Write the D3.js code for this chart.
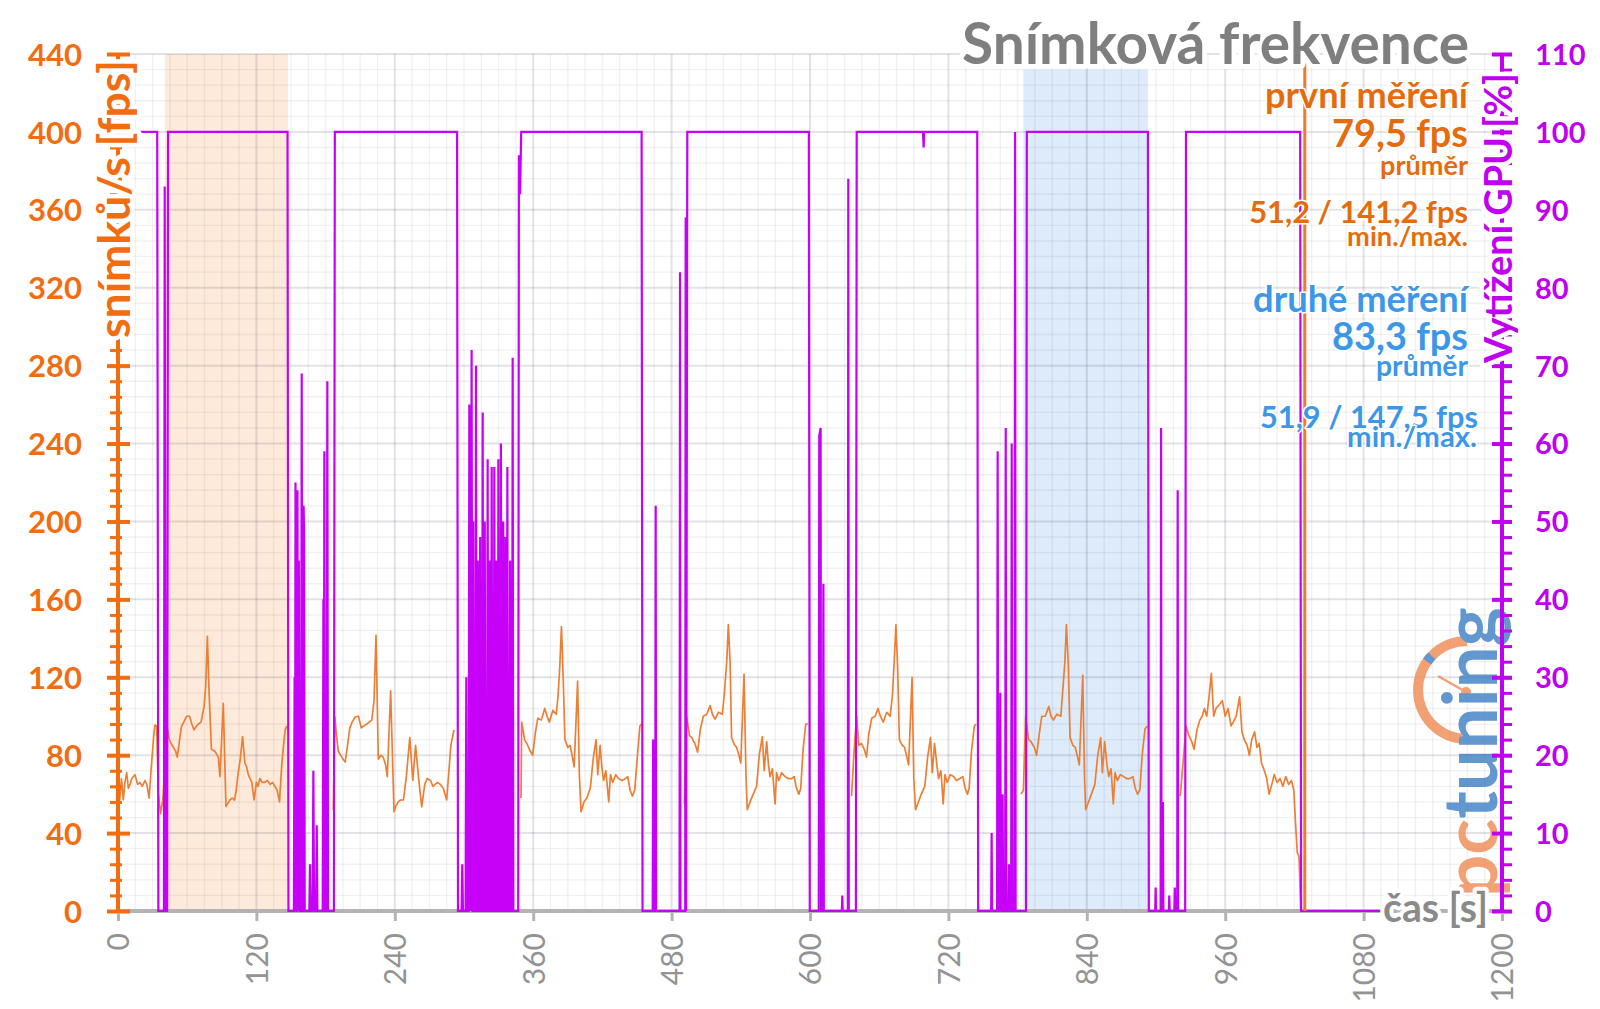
<!DOCTYPE html>
<html><head><meta charset="utf-8">
<script src="https://cdn.jsdelivr.net/npm/d3@7"></script>
<style>body{margin:0;background:#fff;}svg{display:block;}</style>
</head><body>
<svg id="c" width="1600" height="1009"></svg>
<script>
// ---------------- DATA ----------------
const xTicks = [0,120,240,360,480,600,720,840,960,1080,1200];
const fpsTicks = [0,40,80,120,160,200,240,280,320,360,400,440];
const gpuTicks = [0,10,20,30,40,50,60,70,80,90,100,110];
const titleText = "Snímková frekvence";
const fpsAxisTitle = "snímků/s [fps]";
const gpuAxisTitle = "Vytížení GPU [%]";
const timeAxisTitle = "čas [s]";
const firstLabels = ["první měření", "79,5 fps", "průměr", "51,2 / 141,2 fps", "min./max."];
const secondLabels = ["druhé měření", "83,3 fps", "průměr", "51,9 / 147,5 fps", "min./max."];
const firstWindow = [40.7, 147.4];   // s
const secondWindow = [785, 893];     // s
const endMarker = 1029;              // s

// fps series, [time s, fps]
const fpsRun1 = [[0,65],[1.5,57],[3,68],[4.6,57],[6,66],[7.5,71],[9,63],[10.4,65],[12,68],[14.7,70],[17,65],[19,66],[21,64],[23.4,67],[25,65],[27,58],[29,75],[31,90],[32,95.5],[33.5,95],[35,60],[37,50],[39,58],[41,80],[42.5,95],[44.5,88],[46,86],[48,84],[50,82],[51.4,79],[53,86],[55,94.7],[57,97],[59.5,100],[62,100],[64,96],[65.9,93],[68,95],[69.7,96],[72,97],[74.6,105],[76,115],[77.5,141],[79,112],[81,83],[84,82],[86,80],[87,79],[88.4,69],[91.3,106.6],[93.6,53.6],[95,55],[97,57],[99,58],[101,57],[102.5,62],[104,70],[106,78],[108,89.5],[110,76],[111.5,74],[113,70],[116,66],[118,57],[120,66],[121.5,64],[123,68],[125,66],[127,66],[129.5,67],[132,65],[134,66],[136,64],[138,62],[140,56],[142,75],[144,88],[145,93],[146.5,95]];
const fpsRun2 = [[186.7,52],[188,99.7],[189.5,90],[191,82],[193,80],[195,78],[197,76.5],[199,85],[201,94],[203,97],[205.5,99.6],[208.4,100],[211,94],[213,95],[215.6,96],[218,97],[220,98],[222,108],[223.7,141.5],[225.7,78],[228,80],[230,79],[232,75],[233.5,69],[236.4,113],[239.3,51],[241,54],[243,56],[245,57],[247.5,57],[250,69],[253,89],[255.6,67],[258,85],[260.5,69],[263.3,53.5],[266,65],[268,68],[271,67],[273,64],[275,65],[277,66],[279.5,65],[282,63],[285,57],[288.6,85],[291.3,93]];
const fpsRun3 = [[349.4,58],[350,97],[352.5,88],[354.5,86],[357.5,82],[359.5,80],[362,92],[364,99],[367,98],[370,104],[372,100],[374,97],[377,103],[380,101],[381.5,110],[383,125],[384.5,146],[386,120],[387.5,88],[390,84],[392,85],[394,79],[395.5,74],[398.5,118],[400,70],[401.5,51],[404,56],[406.5,58],[409.5,63],[412,78],[414.5,88],[416,70],[418,85],[419.5,74],[421,67],[423,72],[425.5,56],[427,70],[429,66],[431.5,70],[434,68],[437,67],[440,68],[442,69],[444,62],[446,59],[448,62],[450,77],[452.5,95],[454,96]];
const fpsRun4 = [[491,55],[493,100],[495.5,90],[497.5,89],[500.5,85.5],[502.5,81.6],[505,93.5],[507.5,100],[510.5,101],[513.4,105.5],[515.4,101],[517.7,98.5],[520.6,102],[524,101],[525.8,112],[527.8,128],[529.2,147],[530.7,128],[532,89],[534.4,85.5],[536.4,84],[538.4,80],[540,76],[542.8,121.6],[544.5,69.4],[545.6,52],[548,56],[550.8,60],[553.7,64],[556,80],[558.7,89.5],[560.3,72],[562.4,87],[564,75],[565.3,69],[567.4,73],[569.7,55],[571,71],[573,67],[575.4,71],[578.3,69],[581,68],[584,68],[586.3,69],[588.3,63],[590.3,60],[592,63],[594,83],[596.3,96],[598.3,96]];
const fpsRun5 = [[636,59],[638,80],[640.4,100],[642.4,85],[644.5,86],[647,83],[649,79],[651,91],[653.5,99],[656.5,100],[659,104],[661,100],[663.5,97],[666.5,102],[669.5,100],[671.5,111],[673,128],[674.5,147],[676,125],[677.5,88],[680,85],[682,84],[684,79],[685.5,75],[688.5,120],[690,68],[691.5,52],[694,56],[696.5,60],[699.5,64],[702,79],[704.5,89],[706,71],[708,86],[710,75],[711.5,68],[713.5,72],[715.5,55],[717,70],[719,66],[721.5,70],[724.5,69],[727,67],[730,68],[732.5,69],[734.5,63],[736.5,60],[738,63],[740,82],[742.5,95],[744,96]];
const fpsRun6 = [[783,60],[785,62],[787,100],[789.5,88],[791.5,87],[794.5,84],[796.5,80],[799,92],[801,100],[804,100],[807,105],[809,100],[811,98],[814,101],[817.5,100],[819,112],[821,128],[822.3,147],[824,126],[825.5,89],[828,85],[830,84],[832,79],[833.5,75],[836.5,121],[838,69],[839,52],[841.5,56],[844,60],[847,65],[849.5,80],[852,89],[853.5,71],[855.5,87],[857.5,75],[859,69],[861,73],[863,55],[864.5,71],[866.5,67],[869,70],[872,69],[874.5,68],[877.5,68],[880,69],[882,63],[884,60],[886,62],[888,80],[890.5,93.5],[892.5,95]];
const fpsRun7 = [[921,59],[924,80],[926,95],[928.5,90],[931,87],[933,83],[935.5,93],[938,98],[940,100],[942,104],[944,100],[946,110],[948,122],[950,100],[952,104],[955,106],[957.5,108],[960,100],[962.5,104],[965,95],[967,97],[969.5,100],[972.5,110],[974.5,92],[976.5,88],[979,85],[981,80],[983,88],[985.5,92],[987.5,84],[989.5,86],[991.5,76],[994,72],[996,68],[998,60],[1000,64],[1002.5,70],[1005,66],[1007.5,68],[1010,64],[1012.5,69],[1015,65],[1017.5,67],[1019.5,62],[1021,45],[1022.5,30],[1024,28],[1025.5,0]];

// GPU load, [time s, %]
const gpuLoad = [[0,100],[34,100],[35,0],[39.8,0],[40.5,93],[41.2,0],[42.6,0],[43.4,100],
[147,100],[147.8,0],[152.5,0],[153.1,30],[153.5,0],[153.9,55],[154.6,0],[155,0],[155.6,54],[156.2,0],[156.8,45],[157.4,0],[158.7,0],[159.3,69],[159.9,0],[160.3,0],[160.9,52],[161.3,49],[161.9,0],[165.9,0],[166.5,6],[167.1,0],[168.8,0],[169.4,18],[170,0],[171.7,0],[172.3,11],[172.9,0],[177.5,0],[178.1,40],[178.5,0],[178.9,59],[179.5,0],[180.9,0],[181.5,68],[182.1,0],[187.2,0],[188,100],
[294,100],[294.8,0],[297.9,0],[298.5,6],[299.1,0],[301.4,0],[302,30],[302.6,0],[304,0],[304.6,65],[305.1,0],[305.6,40],[306.1,0],[306.6,72],[307.3,0],[307.4,0],[308,50],[308.6,0],[309.8,0],[310.4,70],[311,0],[311.4,0],[312,45],[312.6,0],[313.4,0],[314,48],[314.6,0],[315.6,0],[316.2,64],[316.8,0],[317.4,0],[318,50],[318.6,0],[319.9,0],[320.5,58],[321.1,0],[321.4,0],[322,45],[322.6,0],[323.4,0],[324,57],[324.6,0],[325.7,0],[326.3,57],[326.9,0],[327.4,0],[328,45],[328.6,0],[329.2,0],[329.8,58],[330.4,0],[331.4,0],[332,60],[332.6,0],[333.4,0],[334,50],[334.6,0],[335.4,0],[336,48],[336.6,0],[337,0],[337.6,57],[338.2,0],[339.4,0],[340,45],[340.6,0],[341.6,0],[342.2,71],[342.8,0],[347,0],[347.6,97],[348.6,92],[349.6,100],
[454,100],[454.8,0],[463.6,0],[464,22],[464.4,0],[465.8,0],[466.2,52],[466.6,0],[486.9,0],[487.3,82],[487.7,0],[491.8,0],[492.2,89],[492.6,0],[493.1,49],[493.6,100],
[599,100],[599.8,0],[607.6,0],[608,61],[609.2,62],[609.6,0],[611.2,0],[611.6,42],[612,0],[627.6,0],[628,2],[628.4,0],[632.8,0],[633.2,94],[633.6,0],[639.8,0],[640.5,100],
[698,100],[698.5,98],[699,100],
[745,100],[745.8,0],[757.1,0],[757.5,10],[757.9,0],[762.2,0],[762.7,59],[763.2,0],[764.5,0],[765,28],[765.5,0],[766.5,0],[767,15],[767.5,0],[769.2,0],[769.7,62],[770.2,0],[772,0],[772.5,6],[773,0],[774.4,0],[774.9,60],[775.4,0],[777.3,0],[777.8,100],[778.3,0],[787.3,0],[788,100],
[893,100],[893.8,0],[899.3,0],[899.7,3],[900.1,0],[904,0],[904.4,62],[904.8,0],[905.6,0],[906,14],[906.4,0],[911.1,0],[911.5,2],[911.9,0],[915.9,0],[916.3,3],[916.7,0],[918.4,0],[918.8,54],[919.2,0],[925.3,0],[926,100],
[1025,100],[1025.8,0],[1096,0]];

// ---------------- DRAW ----------------
const FONT = "Lato, 'Open Sans', sans-serif";
const ORANGE_AX = "#f26c10", PURPLE_AX = "#c000f0", GRAY_AX = "#b3b3b3";
const svg = d3.select('#c');
const x = d3.scaleLinear().domain([0,1200]).range([118,1502]);
const yF = d3.scaleLinear().domain([0,440]).range([911,54]);
const yG = d3.scaleLinear().domain([0,110]).range([911,54]);

function fit(sel, target){
  const w = sel.node().getComputedTextLength();
  const fs = parseFloat(sel.attr('font-size'));
  sel.attr('font-size', fs*target/w);
  return sel;
}
function halo(sel, w){ return sel.attr('stroke', '#fff').attr('stroke-width', w).attr('stroke-linejoin', 'round').attr('paint-order', 'stroke'); }

// highlight bands
svg.append('rect').attr('x', x(firstWindow[0])).attr('width', x(firstWindow[1])-x(firstWindow[0]))
  .attr('y', yF(440)).attr('height', yF(0)-yF(440)).attr('fill', '#fdeadb');
svg.append('rect').attr('x', x(secondWindow[0])).attr('width', x(secondWindow[1])-x(secondWindow[0]))
  .attr('y', yF(432)).attr('height', yF(0)-yF(432)).attr('fill', '#ddebfb');

// grid
const grid = svg.append('g');
d3.range(0,1201,15).forEach(t => {
  const major = t % 120 === 0;
  grid.append('line').attr('x1', x(t)).attr('x2', x(t)).attr('y1', yF(440)).attr('y2', yF(0))
    .attr('stroke', major ? 'rgba(30,30,70,0.13)' : 'rgba(0,0,0,0.055)').attr('stroke-width', major ? 2 : 1.4);
});
d3.range(0,441,8).forEach(v => {
  const major = v % 40 === 0;
  grid.append('line').attr('x1', x(0)).attr('x2', x(1200)).attr('y1', yF(v)).attr('y2', yF(v))
    .attr('stroke', major ? 'rgba(30,30,70,0.13)' : 'rgba(0,0,0,0.055)').attr('stroke-width', major ? 2 : 1.4);
});

// x axis base line
svg.append('line').attr('x1', x(0)).attr('x2', x(1200)).attr('y1', yF(0)).attr('y2', yF(0))
  .attr('stroke', GRAY_AX).attr('stroke-width', 4);

// logo
const logo = svg.append('g').attr('opacity', 0.8);
logo.append('path')
  .attr('transform', 'translate(1467,690)')
  .attr('d', d3.arc()({innerRadius: 44, outerRadius: 54, startAngle: -Math.PI, endAngle: 0}))
  .attr('fill', '#f08a52');
logo.append('path')
  .attr('transform', 'translate(1467,690)')
  .attr('d', d3.arc()({innerRadius: 44, outerRadius: 54, startAngle: -0.95, endAngle: -0.8}))
  .attr('fill', '#3b7ec4');
logo.append('line').attr('x1', 1438).attr('y1', 676).attr('x2', 1466).attr('y2', 692)
  .attr('stroke', '#f08a52').attr('stroke-width', 2.5);
logo.append('circle').attr('cx', 1466).attr('cy', 692).attr('r', 5).attr('fill', '#f08a52');
const logoText = logo.append('text').attr('transform', 'translate(1497,897) rotate(-90)')
  .attr('font-family', FONT).attr('font-weight', 700).attr('font-size', 56);
logoText.append('tspan').attr('fill', '#f08a52').text('pc');
logoText.append('tspan').attr('fill', '#3b7ec4').text('tuning');
fit(logoText, 290);

// fps lines
const fpsLine = d3.line().x(d => x(d[0])).y(d => yF(d[1]));
[fpsRun1, fpsRun2, fpsRun3, fpsRun4, fpsRun5, fpsRun6, fpsRun7].forEach(run => {
  svg.append('path').attr('d', fpsLine(run)).attr('fill', 'none')
    .attr('stroke', '#ec7f35').attr('stroke-width', 1.7).attr('stroke-linejoin', 'round');
});

// GPU line
const gpuLine = d3.line().x(d => x(d[0])).y(d => yG(d[1]));
svg.append('path').attr('d', gpuLine(gpuLoad)).attr('fill', 'none')
  .attr('stroke', '#c700f8').attr('stroke-width', 2.2).attr('stroke-linejoin', 'miter');

// end marker
svg.append('line').attr('x1', x(endMarker)).attr('x2', x(endMarker)).attr('y1', 62).attr('y2', yF(0))
  .attr('stroke', '#f07a2c').attr('stroke-width', 3);

// left axis
svg.append('line').attr('x1', x(0)).attr('x2', x(0)).attr('y1', yF(0)+2).attr('y2', yF(440))
  .attr('stroke', ORANGE_AX).attr('stroke-width', 4);
const lMinor = svg.append('g').attr('transform', `translate(${x(0)},0)`)
  .call(d3.axisLeft(yF).tickValues(d3.range(0,441,8)).tickSize(8).tickFormat(''));
lMinor.select('.domain').remove();
lMinor.selectAll('line').attr('stroke', ORANGE_AX).attr('stroke-width', 3).attr('x1', 4);
const lMajor = svg.append('g').attr('transform', `translate(${x(0)},0)`)
  .call(d3.axisLeft(yF).tickValues(fpsTicks).tickSize(11));
lMajor.select('.domain').remove();
lMajor.selectAll('line').attr('stroke', ORANGE_AX).attr('stroke-width', 4).attr('x1', 12);
lMajor.selectAll('text').attr('x', -36).attr('dy', '0.36em').attr('fill', ORANGE_AX)
  .attr('font-family', FONT).attr('font-weight', 700).attr('font-size', 31).attr('text-anchor', 'end');

// right axis
svg.append('line').attr('x1', x(1200)).attr('x2', x(1200)).attr('y1', yG(0)+2).attr('y2', yG(110))
  .attr('stroke', PURPLE_AX).attr('stroke-width', 4);
const rMinor = svg.append('g').attr('transform', `translate(${x(1200)},0)`)
  .call(d3.axisRight(yG).tickValues(d3.range(0,111,2)).tickSize(10).tickFormat(''));
rMinor.select('.domain').remove();
rMinor.selectAll('line').attr('stroke', PURPLE_AX).attr('stroke-width', 3);
const rMajor = svg.append('g').attr('transform', `translate(${x(1200)},0)`)
  .call(d3.axisRight(yG).tickValues(gpuTicks).tickSize(10));
rMajor.select('.domain').remove();
rMajor.selectAll('line').attr('stroke', PURPLE_AX).attr('stroke-width', 4).attr('x1', -10);
rMajor.selectAll('text').attr('x', 33).attr('dy', '0.36em').attr('fill', PURPLE_AX)
  .attr('font-family', FONT).attr('font-weight', 700).attr('font-size', 29).attr('text-anchor', 'start');

// bottom axis
const bAx = svg.append('g').attr('transform', `translate(0,${yF(0)})`)
  .call(d3.axisBottom(x).tickValues(xTicks).tickSize(10).tickFormat(d3.format('d')));
bAx.select('.domain').remove();
bAx.selectAll('line').attr('stroke', GRAY_AX).attr('stroke-width', 3).attr('y1', 2);
bAx.selectAll('text').attr('y', 0).attr('x', 0).attr('dy', '0.36em')
  .attr('transform', 'translate(0,22) rotate(-90)').attr('text-anchor', 'end')
  .attr('fill', '#939393').attr('font-family', FONT).attr('font-size', 30);

// axis titles with white halo
const lt = svg.append('text').attr('transform', `translate(${x(0)},199) rotate(-90)`)
  .attr('text-anchor', 'middle').attr('dy', '0.27em').attr('font-family', FONT).attr('font-weight', 700)
  .attr('font-size', 36).attr('fill', ORANGE_AX).text(fpsAxisTitle);
halo(lt, 9); fit(lt, 278);
const rt = svg.append('text').attr('transform', `translate(${x(1200)},218) rotate(-90)`)
  .attr('text-anchor', 'middle').attr('dy', '0.27em').attr('font-family', FONT).attr('font-weight', 700)
  .attr('font-size', 36).attr('fill', PURPLE_AX).text(gpuAxisTitle);
halo(rt, 9); fit(rt, 290);
const bt = svg.append('text').attr('x', 1435.5).attr('y', yF(0)).attr('dy', '0.27em')
  .attr('text-anchor', 'middle').attr('font-family', FONT).attr('font-weight', 700)
  .attr('font-size', 32).attr('fill', '#8a8a8a').text(timeAxisTitle);
halo(bt, 8); fit(bt, 105);

// title
const tt = svg.append('text').attr('x', 1469).attr('y', 64).attr('text-anchor', 'end')
  .attr('font-family', FONT).attr('font-weight', 700).attr('font-size', 50).attr('fill', '#7f7f7f').text(titleText);
halo(tt, 10); fit(tt, 507);

// annotations
const firstPos = [[1468,108,203],[1468,147,136],[1468,175,88],[1468,223,219],[1468,246,121]];
const secondPos = [[1468,312,215],[1468,350,136],[1468,376,92],[1478,428,218],[1477,447,130]];
function annot(labels, pos, color){
  labels.forEach((s, i) => {
    const t = svg.append('text').attr('x', pos[i][0]).attr('y', pos[i][1]).attr('text-anchor', 'end')
      .attr('font-family', FONT).attr('font-weight', 700).attr('font-size', 28).attr('fill', color).text(s);
    halo(t, 3); fit(t, pos[i][2]);
  });
}
annot(firstLabels, firstPos, '#e56c0e');
annot(secondLabels, secondPos, '#3d97e8');
</script>
</body></html>
